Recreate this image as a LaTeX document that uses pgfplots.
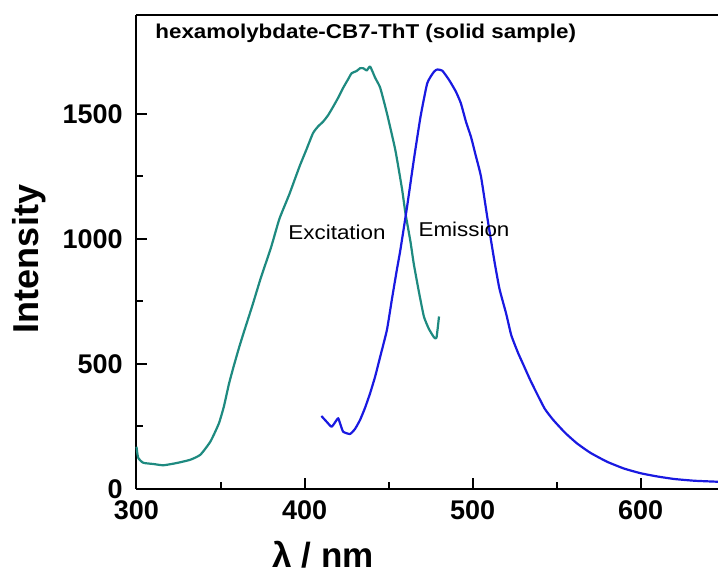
\documentclass[border=0pt]{standalone}
\usepackage{fontspec}
\setmainfont{Liberation Sans}
\newfontfamily\wide[FakeStretch=1.12]{Liberation Sans}
\usepackage{pgfplots}
\pgfplotsset{compat=1.18}

\definecolor{exc}{RGB}{30,138,128}
\definecolor{emi}{RGB}{25,25,225}

\begin{document}
\begin{tikzpicture}
\begin{axis}[
    name=ax,
    scale only axis,
    width=290.75pt, height=237pt,
    xmin=300, xmax=646, ymin=0, ymax=1896,
    axis x line*=bottom, axis y line*=left,
    axis line style={line width=1pt},
    tick align=inside,
    xtick={300,400,500,600}, minor xtick={350,450,550},
    ytick={0,500,1000,1500}, minor ytick={250,750,1250},
    major tick length=5.5pt, minor tick length=3.5pt,
    tick style={line width=1pt, black},
    /pgf/number format/assume math mode=true,
    /pgf/number format/1000 sep={},
    ticklabel style={font=\bfseries\fontsize{13.5}{15}\selectfont},
    xticklabel style={anchor=north, inner sep=0pt, yshift=-5.5pt},
    yticklabel style={anchor=east, inner sep=0pt, xshift=-6.75pt},
    clip=false,
]
% excitation spectrum
\addplot[exc, line width=1.1pt, line join=round, smooth, tension=0.3] coordinates {
(300,169) (301,125) (304,105) (310,100) (316,95) (324,104) (332,117)
(338,137) (344,190) (349,262) (352,330) (355,420) (358,495) (361,565)
(364,630) (369,735) (374,845) (380,965) (385,1080) (391,1180) (397,1290)
(401,1356) (405,1423) (408,1450) (411,1469) (414,1495) (417,1529)
(420,1565) (423,1605) (426,1640) (428,1663) (431,1672) (433,1683)
(435,1683) (437,1674) (439,1690) (442,1645) (445,1605) (449,1503)
(454,1356) (458,1200) (460,1104) (463,990) (465,900) (468,790)
(471,690) (474,640) (477,607) (478.5,605) (480,690)
};
% emission spectrum
\addplot[emi, line width=1.1pt, line join=round, smooth, tension=0.3] coordinates {
(410,292) (413,270) (416,249) (418,265) (420,283) (421.5,255) (423,229)
(427,220) (430,240) (433,276) (436,325) (439,383) (442,450) (445,529)
(449,636) (452,760) (455,880) (457,956) (461,1129) (465,1316) (469,1489)
(473,1623) (477,1669) (479,1678) (482,1673) (486,1636) (490,1590)
(493,1543) (496,1470) (499,1409) (502,1330) (505,1249) (509,1075)
(513,910) (516,800) (520,700) (523,615) (527,545) (530,500) (534,440)
(538,385) (543,320) (548,276) (555,225) (562,183) (570,145) (580,109)
(590,82) (600,63) (610,50) (620,40) (632,33) (646,29)
};
\draw[line width=1pt] (rel axis cs:0,1) -- (rel axis cs:1,1);
\node[anchor=base west, inner sep=0pt, font=\wide\bfseries\fontsize{10}{12}\selectfont]
    at (axis cs:311,1800) {hexamolybdate-CB7-ThT (solid sample)};
\node[anchor=base west, inner sep=0pt, font=\wide\fontsize{10}{12}\selectfont]
    at (axis cs:390.2,996) {Excitation};
\node[anchor=base west, inner sep=0pt, font=\wide\fontsize{10}{12}\selectfont]
    at (axis cs:467.6,1009) {Emission};
\node[anchor=base, inner sep=0pt, font=\bfseries\fontsize{17.5}{20}\selectfont]
    at ([yshift=-39pt]axis cs:411,0) {λ / nm};
\node[rotate=90, anchor=base, inner sep=0pt, font=\bfseries\fontsize{18}{20}\selectfont]
    at ([xshift=-48.75pt]axis cs:300,920) {Intensity};
\end{axis}
\pgfresetboundingbox
\path ([shift={(-68.25pt,-42pt)}]ax.south west) rectangle ([shift={(0pt,7.5pt)}]ax.north east);
\end{tikzpicture}
\end{document}
